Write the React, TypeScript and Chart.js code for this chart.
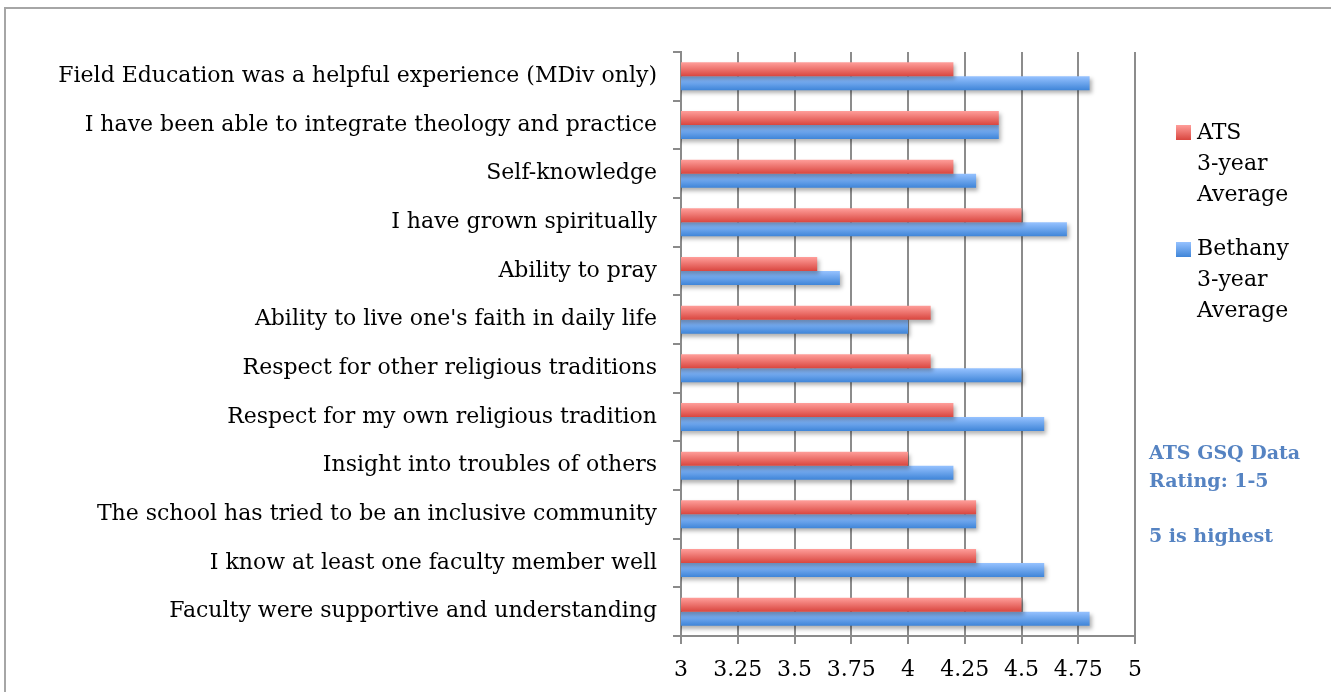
import React, { useEffect, useRef } from "react";
import { Chart, registerables } from "chart.js";

Chart.register(...registerables);

const categories = [
  "Field Education was a helpful experience (MDiv only)",
  "I have been able to integrate theology and practice",
  "Self-knowledge",
  "I have grown spiritually",
  "Ability to pray",
  "Ability to live one's faith in daily life",
  "Respect for other religious traditions",
  "Respect for my own religious tradition",
  "Insight into troubles of others",
  "The school has tried to be an inclusive community",
  "I know at least one faculty member well",
  "Faculty were supportive and understanding",
];

const atsValues = [4.2, 4.4, 4.2, 4.5, 3.6, 4.1, 4.1, 4.2, 4.0, 4.3, 4.3, 4.5];
const bethanyValues = [4.8, 4.4, 4.3, 4.7, 3.7, 4.0, 4.5, 4.6, 4.2, 4.3, 4.6, 4.8];

const seriesNames = ["ATS 3-year Average", "Bethany 3-year Average"];
const xTickLabels = ["3", "3.25", "3.5", "3.75", "4", "4.25", "4.5", "4.75", "5"];

const FONT = "'DejaVu Serif', serif";

function gradientFor(colors: [string, string]) {
  return (context: any) => {
    const chart = context.chart;
    const y = chart.scales && chart.scales.y;
    if (!y || context.dataIndex === undefined || context.type !== "data" || !(y.bottom > y.top)) return colors[1];
    const center = y.getPixelForValue(context.dataIndex);
    const cat = (y.bottom - y.top) / categories.length;
    const barH = (cat * 0.575) / 2;
    const top = context.datasetIndex === 0 ? center - barH : center;
    const g = chart.ctx.createLinearGradient(0, top, 0, top + barH);
    g.addColorStop(0, colors[0]);
    g.addColorStop(1, colors[1]);
    return g;
  };
}

const shadowPlugin = {
  id: "barShadow",
  beforeDatasetsDraw(chart: any) {
    const ctx = chart.ctx;
    ctx.save();
    ctx.shadowColor = "rgba(0,0,0,0.3)";
    ctx.shadowOffsetX = 2;
    ctx.shadowOffsetY = 3;
    ctx.shadowBlur = 4;
  },
  afterDatasetsDraw(chart: any) {
    chart.ctx.restore();
  },
};

export default function App() {
  const ref = useRef<HTMLCanvasElement>(null);

  useEffect(() => {
    if (!ref.current) return;
    const chart = new Chart(ref.current, {
      type: "bar",
      data: {
        labels: categories,
        datasets: [
          {
            label: seriesNames[0],
            data: atsValues,
            backgroundColor: gradientFor(["#ff9e9a", "#d9463f"]),
            borderWidth: 0,
            barPercentage: 1,
            categoryPercentage: 0.575,
          },
          {
            label: seriesNames[1],
            data: bethanyValues,
            backgroundColor: gradientFor(["#96c2ff", "#3f85d8"]),
            borderWidth: 0,
            barPercentage: 1,
            categoryPercentage: 0.575,
          },
        ],
      },
      options: {
        indexAxis: "y",
        animation: false,
        responsive: false,
        devicePixelRatio: 1,
        layout: { padding: { left: 0, top: 52, right: 196, bottom: 0 } },
        plugins: {
          legend: { display: false },
          tooltip: { enabled: false },
        },
        scales: {
          x: {
            min: 3,
            max: 5,
            border: { color: "#8a8a8a", width: 2 },
            grid: {
              color: "#8c8c8c",
              lineWidth: 2,
              tickLength: 8,
              drawTicks: true,
            },
            ticks: {
              stepSize: 0.25,
              color: "#000",
              padding: 13,
              font: { family: FONT, size: 22 },
              maxRotation: 0,
              autoSkip: false,
              callback: (_v: any, i: number) => xTickLabels[i],
            },
            afterFit: (s: any) => {
              s.height = 692 - 636;
            },
          },
          y: {
            border: { color: "#8a8a8a", width: 2 },
            grid: {
              display: true,
              drawOnChartArea: false,
              drawTicks: true,
              tickLength: 8,
              offset: true,
              color: "#8a8a8a",
              lineWidth: 2,
            },
            ticks: {
              color: "#000",
              padding: 16,
              autoSkip: false,
              font: { family: FONT, size: 22 },
            },
            afterFit: (s: any) => {
              s.width = 681;
            },
          },
        },
      },
      plugins: [shadowPlugin],
    });
    return () => chart.destroy();
  }, []);

  const legendText: React.CSSProperties = {
    position: "absolute",
    left: 1197,
    fontFamily: FONT,
    fontSize: 22,
    lineHeight: "31px",
    color: "#000",
  };
  const note: React.CSSProperties = {
    position: "absolute",
    left: 1149,
    fontFamily: FONT,
    fontWeight: "bold",
    fontSize: 19,
    lineHeight: "28px",
    color: "#5583c2",
  };

  return (
    <div
      style={{
        position: "absolute",
        left: 0,
        top: 0,
        width: 1331,
        height: 692,
        background: "#fff",
        overflow: "hidden",
      }}
    >
      <div
        style={{
          position: "absolute",
          left: 4,
          top: 7,
          width: 1340,
          height: 700,
          borderTop: "2px solid #a6a6a6",
          borderLeft: "2px solid #a6a6a6",
        }}
      />
      <canvas ref={ref} width={1331} height={692} style={{ position: "absolute", left: 0, top: 0 }} />
      <div
        style={{
          position: "absolute",
          left: 1176,
          top: 125,
          width: 15,
          height: 15,
          background: "linear-gradient(#ff9e9a, #d9463f)",
        }}
      />
      <div style={{ ...legendText, top: 116 }}>
        ATS<br />3-year<br />Average
      </div>
      <div
        style={{
          position: "absolute",
          left: 1176,
          top: 242,
          width: 15,
          height: 15,
          background: "linear-gradient(#96c2ff, #3f85d8)",
        }}
      />
      <div style={{ ...legendText, top: 232 }}>
        Bethany<br />3-year<br />Average
      </div>
      <div style={{ ...note, top: 438 }}>
        ATS GSQ Data<br />Rating: 1-5
      </div>
      <div style={{ ...note, top: 521 }}>5 is highest</div>
    </div>
  );
}
